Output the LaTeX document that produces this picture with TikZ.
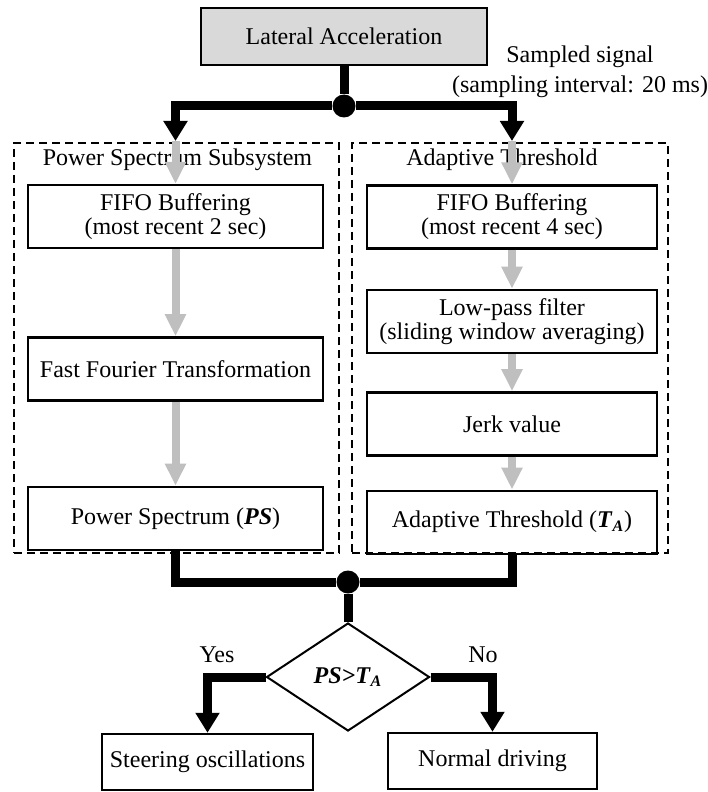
\documentclass[tikz,border=0pt]{standalone}
\usepackage{fontspec}
\setmainfont{Liberation Serif}
\usepackage{tikz}
\usetikzlibrary{arrows.meta, positioning, shapes.geometric}
\newcommand{\bfit}[1]{\textbf{\textit{#1}}}

\begin{document}
\begin{tikzpicture}[x=0.5pt, y=-0.5pt, font=\fontsize{12}{12}\selectfont,
    blk/.style={draw, line width=1.2pt, minimum width=147.5pt, minimum height=31.5pt,
                align=center, inner sep=2pt},
    frame/.style={draw, line width=1pt, dash pattern=on 4pt off 2.5pt, inner sep=0pt},
    bus/.style={line width=4.5pt},
    flow/.style={bus, -{Triangle[width=11.5pt, length=10pt]}},
    feed/.style={draw=gray!50, line width=4pt, -{Triangle[width=10pt, length=11pt]}},
    dot/.style={circle, fill, inner sep=0pt, minimum size=11.5pt},
    decide/.style={diamond, draw, line width=1pt, aspect=1.5, inner sep=0pt,
                   minimum width=81.5pt, minimum height=54pt},
    lbl/.style={inner sep=1pt}]
  \useasboundingbox (0,0) rectangle (707,792);
  \node[blk, fill=gray!30, minimum width=143pt, minimum height=28.5pt] (lat) at (344,36.5) {Lateral Acceleration};
  \node[lbl, align=center, font=\fontsize{12}{15}\selectfont] (samp) at (580,72)
       {Sampled signal\\(sampling interval: 20 ms)};
  \node[frame, minimum width=162.5pt, minimum height=205pt] (frL) at (176.5,348) {};
  \node[frame, minimum width=158pt, minimum height=205pt] (frR) at (510,348) {};
  \node[lbl] (ttlL) at (177.5,160) {Power Spectrum Subsystem};
  \node[lbl] (ttlR) at (502,160) {Adaptive Threshold};
  \node[blk] (fifoL) at (175.5,216.5) {FIFO Buffering\\(most recent 2 sec)};
  \node[blk, below=43.5pt of fifoL] (fft) {Fast Fourier Transformation};
  \node[blk, below=42pt of fft] (ps) {Power Spectrum (\bfit{PS})};
  \node[blk, minimum width=145pt] (fifoR) at (512,217) {FIFO Buffering\\(most recent 4 sec)};
  \node[blk, minimum width=145pt, below=19.5pt of fifoR] (lpf) {Low-pass filter\\(sliding window averaging)};
  \node[blk, minimum width=145pt, below=18.5pt of lpf] (jerk) {Jerk value};
  \node[blk, minimum width=145pt, below=16.5pt of jerk] (ta) {Adaptive Threshold (\bfit{T}\textsubscript{\bfit{A}})};
  \node[dot] (j1) at (344,106) {};
  \coordinate (tapL) at (fifoL.north |- 0,141);
  \coordinate (tapR) at (fifoR.north |- 0,141);
  \draw[bus] (lat) -- (j1);
  \draw[flow] (j1) -| (tapL); \draw[flow] (j1) -| (tapR);
  \draw[feed] (tapL) -- (fifoL); \draw[feed] (tapR) -- (fifoR);
  \draw[feed] (fifoL) -- (fft);  \draw[feed] (fft) -- (ps);
  \draw[feed] (fifoR) -- (lpf);  \draw[feed] (lpf) -- (jerk);
  \draw[feed] (jerk) -- (ta);
  \node[dot] (j2) at (348,582) {};
  \node[decide] (dec) at (348,677) {\bfit{PS>T}\textsubscript{\bfit{A}}};
  \draw[bus] (ps.south) |- (j2); \draw[bus] (ta.south) |- (j2);
  \draw[bus] (j2) -- (dec.north);
  \node[blk, minimum width=105.5pt, minimum height=28pt] (sto) at (207.5,762) {Steering oscillations};
  \node[blk, minimum width=104.5pt, minimum height=28pt] (nor) at (492.5,761) {Normal driving};
  \node[lbl] (yes) at (217,655) {Yes};
  \node[lbl] (no) at (483,655) {No};
  \draw[flow] (dec.west) -| (sto.north); \draw[flow] (dec.east) -| (nor.north);
\end{tikzpicture}
\end{document}
